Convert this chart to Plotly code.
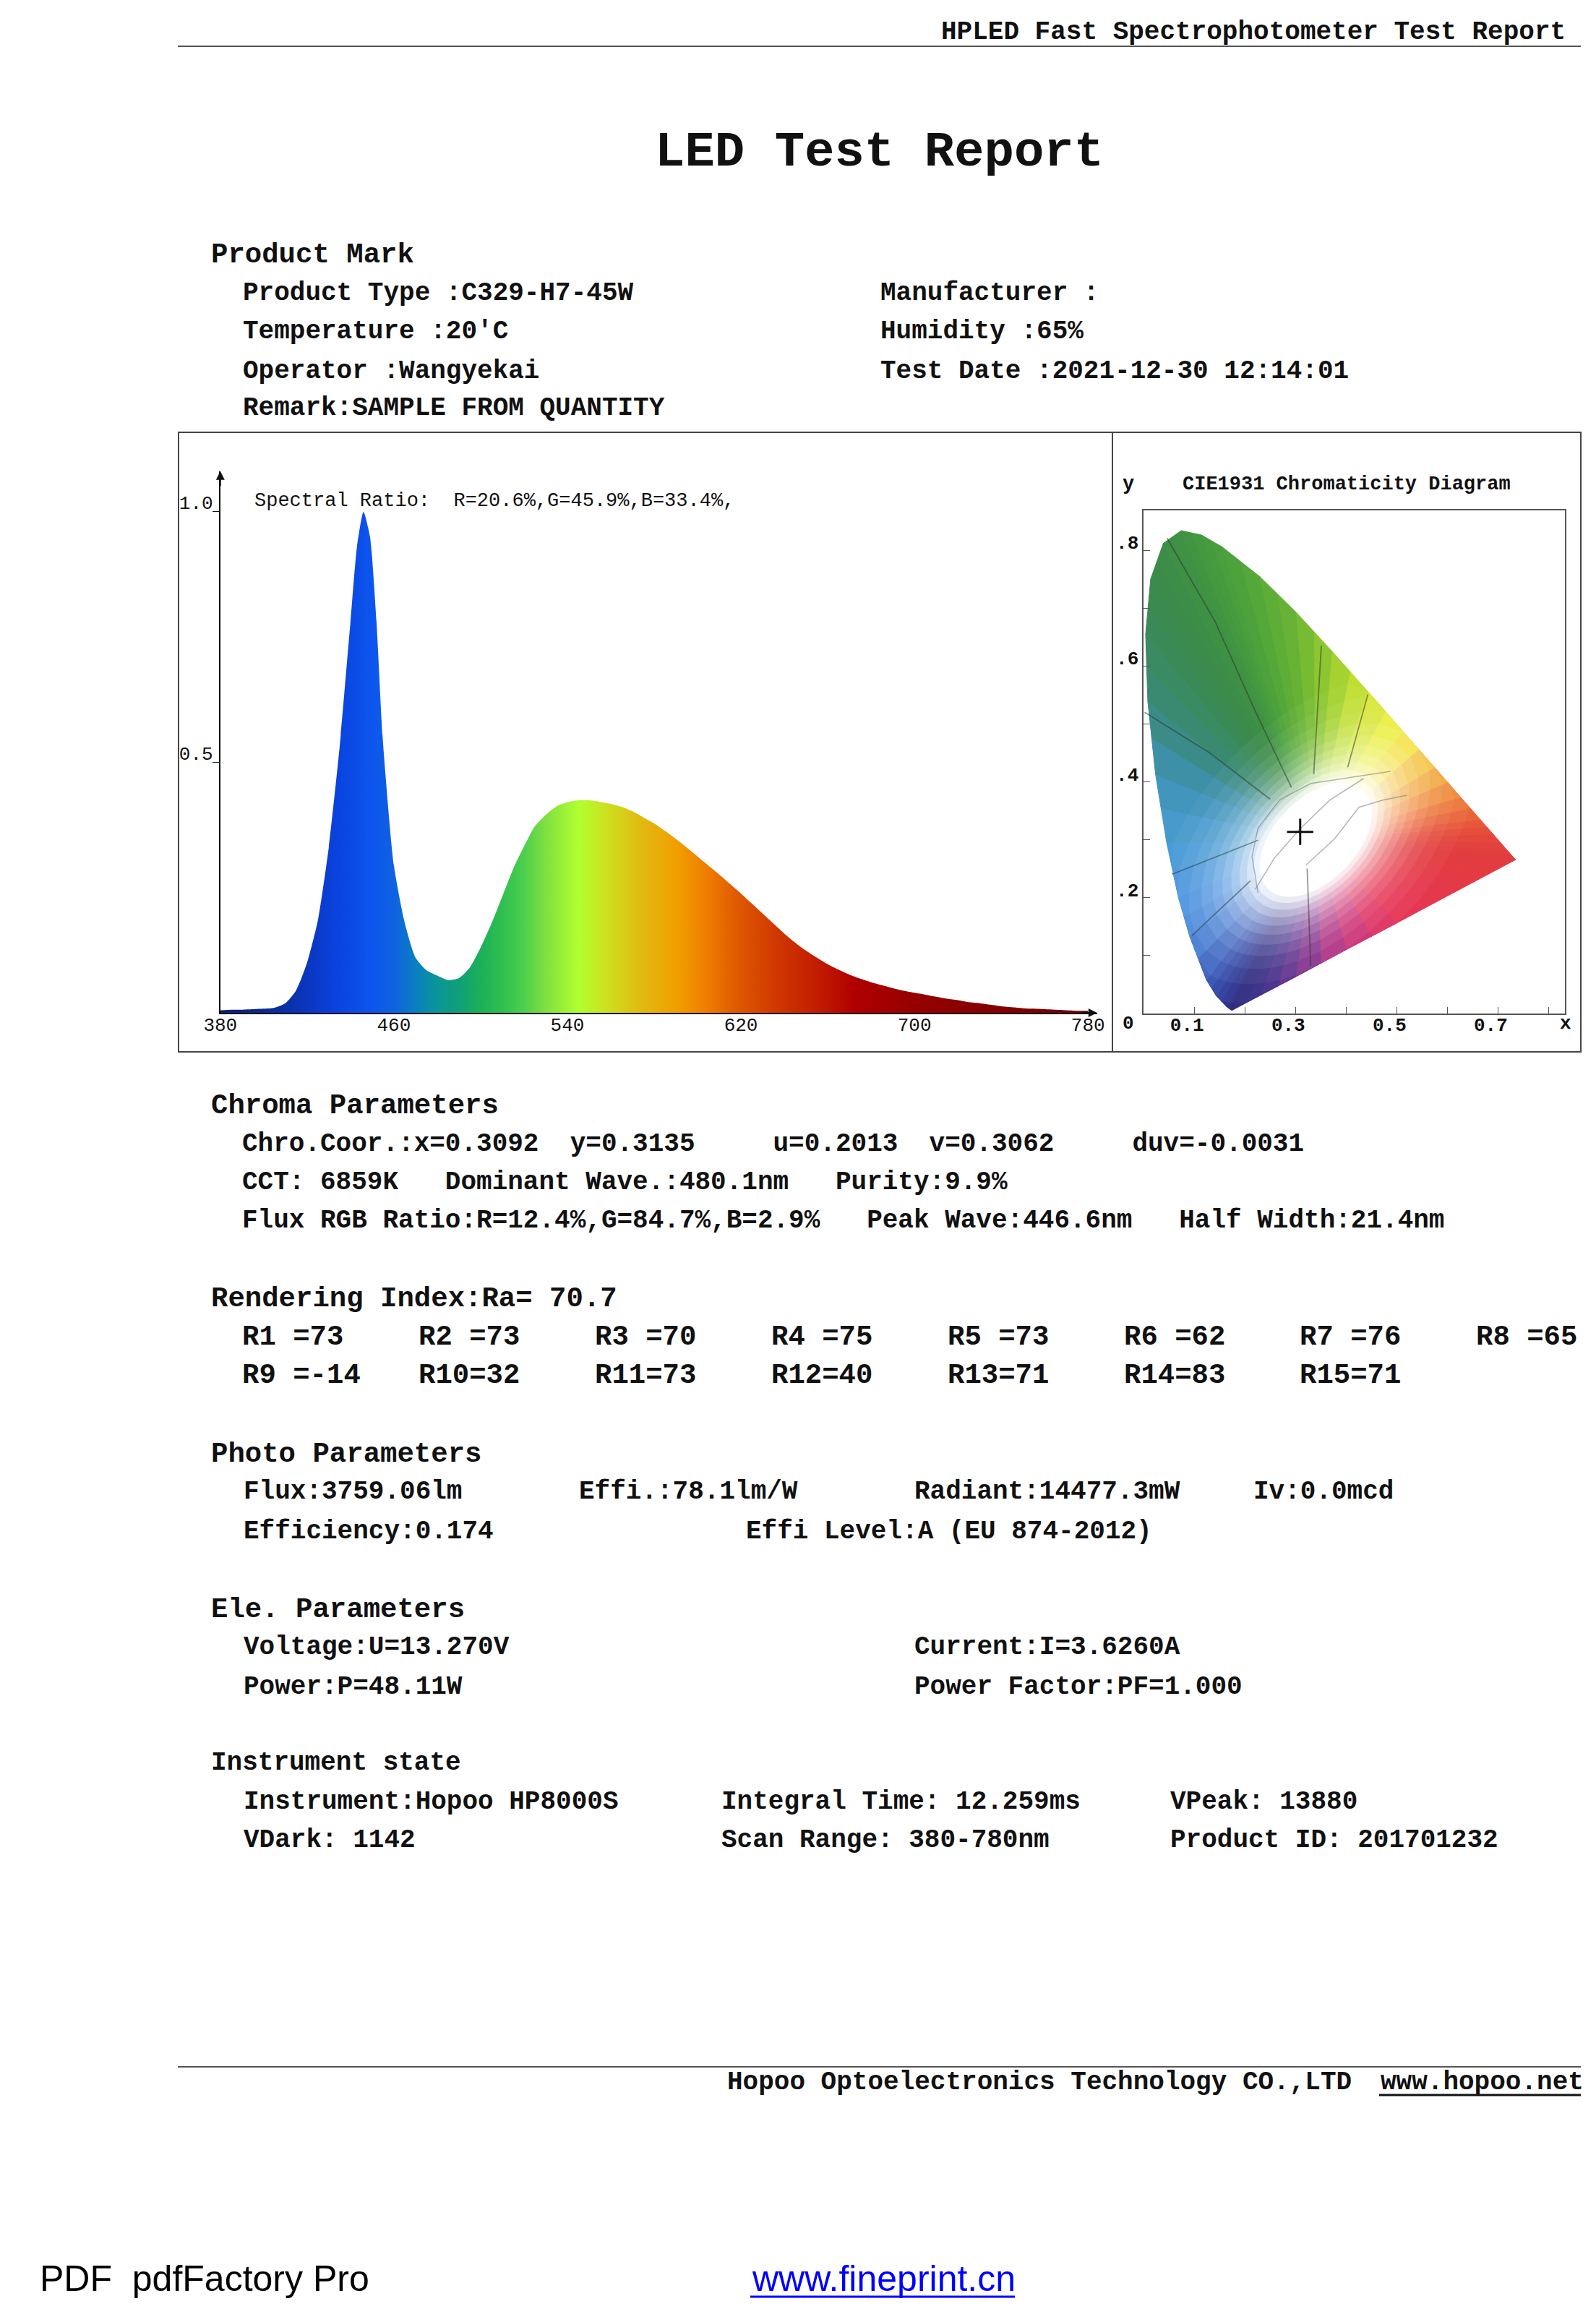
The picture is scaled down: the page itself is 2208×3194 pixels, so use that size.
import math
import plotly.graph_objects as go

W, H = 2208, 3194

# ---------------- data ----------------
wavelengths = [380, 385, 390, 395, 400, 405, 410, 415, 420, 425, 430, 435, 440, 443, 446, 449,
               452, 455, 460, 465, 470, 475, 480, 485, 490, 495, 500, 505, 510, 515, 520, 525,
               530, 535, 540, 545, 550, 555, 560, 565, 570, 575, 580, 585, 590, 595, 600, 605,
               610, 615, 620, 625, 630, 635, 640, 645, 650, 655, 660, 665, 670, 675, 680, 685,
               690, 695, 700, 705, 710, 715, 720, 725, 730, 735, 740, 745, 750, 755, 760, 765,
               770, 775, 780]
intensity = [0.005, 0.006, 0.006, 0.007, 0.008, 0.010, 0.019, 0.045, 0.100, 0.185, 0.330, 0.530,
             0.780, 0.930, 1.000, 0.950, 0.780, 0.540, 0.295, 0.180, 0.110, 0.085, 0.074, 0.065,
             0.069, 0.090, 0.130, 0.178, 0.232, 0.287, 0.332, 0.372, 0.395, 0.412, 0.420, 0.424,
             0.424, 0.421, 0.417, 0.411, 0.402, 0.390, 0.378, 0.363, 0.347, 0.330, 0.312, 0.294,
             0.276, 0.257, 0.238, 0.218, 0.198, 0.178, 0.158, 0.140, 0.124, 0.110, 0.097, 0.086,
             0.076, 0.068, 0.061, 0.055, 0.049, 0.044, 0.040, 0.036, 0.032, 0.028, 0.025, 0.021,
             0.019, 0.016, 0.013, 0.011, 0.009, 0.008, 0.007, 0.006, 0.005, 0.004, 0.004]
x_ticks = [380, 460, 540, 620, 700, 780]
y_ticks = [0.5, 1.0]
y_tick_text = ["0.5", "1.0"]

spec_color_nm = [380, 400, 420, 435, 450, 460, 470, 480, 490, 500, 510, 520, 530, 545, 555,
                 565, 575, 590, 603, 618, 636, 657, 672, 700, 740, 780]
spec_color_hex = ["#0c1f78", "#0a2a8c", "#0a36c0", "#0a44e0", "#0d55ee", "#0f62e0", "#0a7fc0",
                  "#0a9598", "#0fa078", "#1cb058", "#30c050", "#4ccf4c", "#80e040", "#b0ff30",
                  "#c8e824", "#d6d018", "#e2b810", "#f0a000", "#f08000", "#e05a00", "#d03800",
                  "#c01a00", "#b00000", "#960000", "#820000", "#700000"]

# CIE 1931 boundary (spectral locus + purple line) and its colours
cie_x = [0.1741, 0.1644, 0.1440, 0.1241, 0.0913, 0.0687, 0.0454, 0.0235, 0.0082, 0.0039, 0.0139,
         0.0389, 0.0743, 0.1142, 0.1547, 0.2296, 0.3016, 0.3731, 0.4441, 0.5125, 0.5752, 0.6270,
         0.6658, 0.6915, 0.7190, 0.7347, 0.6200, 0.5000, 0.4000, 0.3000, 0.2300]
cie_y = [0.0050, 0.0109, 0.0297, 0.0578, 0.1327, 0.2007, 0.2950, 0.4127, 0.5384, 0.6548, 0.7502,
         0.8120, 0.8338, 0.8262, 0.8059, 0.7543, 0.6923, 0.6245, 0.5547, 0.4866, 0.4242, 0.3725,
         0.3340, 0.3083, 0.2809, 0.2653, 0.2120, 0.1560, 0.1100, 0.0630, 0.0310]
cie_colors = ["#2f2b80", "#2e318a", "#2f40a0", "#3658b8", "#4282d8", "#4a94e0", "#4a9dd4",
              "#3f92b4", "#3a8a7a", "#3a8a5c", "#3b8a4c", "#3d8e46", "#409442", "#45993f",
              "#4aa03c", "#58aa38", "#6cb534", "#98cc30", "#cde432", "#f2ee2a", "#f2b038",
              "#ee7e3a", "#e85c3a", "#e4483c", "#e2403e", "#e23c3e", "#e43a48", "#e6345a",
              "#c42e7c", "#6a2e8e", "#3a2d86"]
white_pt = (0.34, 0.30)
region_lines = [
    [(0.046, 0.821), (0.141, 0.677), (0.220, 0.523), (0.292, 0.390)],
    [(0.002, 0.520), (0.130, 0.450), (0.250, 0.370)],
    [(0.351, 0.635), (0.336, 0.413)],
    [(0.443, 0.551), (0.403, 0.425)],
    [(0.0555, 0.240), (0.226, 0.299)],
    [(0.095, 0.134), (0.211, 0.229)],
    [(0.330, 0.082), (0.323, 0.250)],
]
white_lines = [
    [(0.226, 0.208), (0.214, 0.271), (0.226, 0.320), (0.269, 0.369), (0.330, 0.397),
     (0.440, 0.411), (0.488, 0.418)],
    [(0.2206, 0.2144), (0.2586, 0.2685), (0.3086, 0.3184), (0.3680, 0.3684), (0.4348, 0.4058)],
    [(0.3205, 0.2560), (0.3776, 0.3018), (0.4252, 0.3559), (0.4727, 0.3684), (0.5204, 0.3768)],
]
cie_xt = [0.1, 0.3, 0.5, 0.7]
cie_xt_text = ["0.1", "0.3", "0.5", "0.7"]
cie_yt = [0.2, 0.4, 0.6, 0.8]
cie_yt_text = [".2", ".4", ".6", ".8"]
chroma_x, chroma_y = 0.3092, 0.3135

r_labels = [["R1 =73", "R2 =73", "R3 =70", "R4 =75", "R5 =73", "R6 =62", "R7 =76", "R8 =65"],
            ["R9 =-14", "R10=32", "R11=73", "R12=40", "R13=71", "R14=83", "R15=71"]]

# ---------------- helpers ----------------
MONO = "Liberation Mono"
SANS = "Liberation Sans"


def fx(p):
    return p / W


def fy(p):
    return 1 - p / H


def nb(s):
    return s.replace(" ", "\u00a0")


annotations = []


def text(x, y, s, size=36, weight=700, anchor="left", color="#111", family=MONO):
    annotations.append(dict(x=fx(x), y=fy(y), xref="paper", yref="paper", text=nb(s),
                            showarrow=False, xanchor=anchor, yanchor="middle",
                            font=dict(family=family, size=size, color=color, weight=weight)))


shapes = []


def hline(x0, x1, y, color="#555", width=2):
    shapes.append(dict(type="line", xref="paper", yref="paper", x0=fx(x0), x1=fx(x1),
                       y0=fy(y), y1=fy(y), line=dict(color=color, width=width)))


def hex2rgb(h):
    return tuple(int(h[i:i + 2], 16) for i in (1, 3, 5))


def tint(rgb, b):
    return "rgb(%d,%d,%d)" % tuple(round(c + (255 - c) * b) for c in rgb)


fig = go.Figure()

# ---------------- spectrum ----------------
span = spec_color_nm[-1] - spec_color_nm[0]
spec_scale = [[(n - spec_color_nm[0]) / span, c] for n, c in zip(spec_color_nm, spec_color_hex)]
fig.add_trace(go.Scatter(
    x=wavelengths, y=intensity, mode="lines", line=dict(width=0, shape="spline", smoothing=0.6),
    fill="tozeroy",
    fillgradient=dict(type="horizontal", colorscale=spec_scale, start=380, stop=780),
    xaxis="x", yaxis="y", hoverinfo="skip", showlegend=False))

# ---------------- CIE diagram (shaded horseshoe) ----------------
layer_radius = [None, 0.215, 0.19, 0.17, 0.153, 0.138, 0.125, 0.113, 0.102, 0.092, 0.083, 0.075]
layer_blend = [0.0, 0.04, 0.09, 0.15, 0.23, 0.32, 0.42, 0.53, 0.65, 0.78, 0.9, 1.0]
SUB = 2
ang = math.radians(38)
ca, sa = math.cos(ang), math.sin(ang)
wx, wy = white_pt
n = len(cie_x)
bx, by, bc = [], [], []
for i in range(n):
    j = (i + 1) % n
    c1, c2 = hex2rgb(cie_colors[i]), hex2rgb(cie_colors[j])
    for s in range(SUB):
        t = s / SUB
        bx.append(cie_x[i] + t * (cie_x[j] - cie_x[i]))
        by.append(cie_y[i] + t * (cie_y[j] - cie_y[i]))
        bc.append((c1, c2, t))
m = len(bx)


def pull(k, r):
    dx, dy = bx[k] - wx, by[k] - wy
    u = dx * ca + dy * sa
    v = -dx * sa + dy * ca
    d = math.hypot(u / 1.7, v)
    f = 1.0 if r is None else min(1.0, r / d)
    return wx + f * dx, wy + f * dy


for r, b in zip(layer_radius, layer_blend):
    for i in range(m):
        j = (i + 1) % m
        p1, p2 = pull(i, r), pull(j, r)
        c1, c2, t = bc[i]
        tm = t + 0.5 / SUB
        col = tint(tuple(a + tm * (c - a) for a, c in zip(c1, c2)), b)
        fig.add_trace(go.Scatter(x=[wx, p1[0], p2[0], wx], y=[wy, p1[1], p2[1], wy],
                                 mode="lines", fill="toself", fillcolor=col,
                                 line=dict(color=col, width=1), xaxis="x2", yaxis="y2",
                                 hoverinfo="skip", showlegend=False))

for seg in region_lines:
    fig.add_trace(go.Scatter(x=[p[0] for p in seg], y=[p[1] for p in seg], mode="lines",
                             line=dict(color="rgba(40,50,45,0.5)", width=1.8),
                             xaxis="x2", yaxis="y2", hoverinfo="skip", showlegend=False))
for seg in white_lines:
    fig.add_trace(go.Scatter(x=[p[0] for p in seg], y=[p[1] for p in seg], mode="lines",
                             line=dict(color="rgba(120,120,120,0.55)", width=1.5),
                             xaxis="x2", yaxis="y2", hoverinfo="skip", showlegend=False))
fig.add_trace(go.Scatter(x=[chroma_x], y=[chroma_y], mode="markers",
                         marker=dict(symbol="cross-thin", size=26,
                                     line=dict(width=3, color="#111")),
                         xaxis="x2", yaxis="y2", hoverinfo="skip", showlegend=False))

# ---------------- page frame / lines ----------------
hline(246, 2187, 64)
hline(246, 2187, 2859)
shapes.append(dict(type="rect", xref="paper", yref="paper", x0=fx(247), x1=fx(2187),
                   y0=fy(1455), y1=fy(598), line=dict(color="#444", width=2)))
shapes.append(dict(type="line", xref="paper", yref="paper", x0=fx(1539), x1=fx(1539),
                   y0=fy(1455), y1=fy(598), line=dict(color="#444", width=2)))
hline(1908, 2187, 2898, color="#111", width=3)
hline(1038, 1404, 3177, color="#0000ff", width=3)

# axis arrows
annotations.append(dict(x=784.2, y=0, xref="x", yref="y", ax=-22, ay=0, text="",
                        showarrow=True, arrowhead=2, arrowsize=1.2, arrowwidth=2,
                        arrowcolor="#111"))
annotations.append(dict(x=380, y=1.0811, xref="x", yref="y", ax=0, ay=22, text="",
                        showarrow=True, arrowhead=2, arrowsize=1.2, arrowwidth=2,
                        arrowcolor="#111"))

# ---------------- texts ----------------
text(2168, 44, "HPLED Fast Spectrophotometer Test Report", 36, 700, anchor="right")
text(1216, 211, "LED Test Report", 69, 700, anchor="center")

text(290, 353, "Product Mark", 39)
text(334, 406, "Product Type :C329-H7-45W")
text(1216, 406, "Manufacturer :")
text(334, 459, "Temperature :20'C")
text(1216, 459, "Humidity :65%")
text(334, 513, "Operator :Wangyekai")
text(1216, 513, "Test Date :2021-12-30 12:14:01")
text(334, 565, "Remark:SAMPLE FROM QUANTITY")

text(350, 693, "Spectral Ratio:  R=20.6%,G=45.9%,B=33.4%,", 27, 400)
text(1561, 670, "y", 27, 700, anchor="center")
text(1863, 670, "CIE1931 Chromaticity Diagram", 27, 700, anchor="center")
text(1561, 1416, "0", 26, 700, anchor="center")
text(2166, 1416, "x", 26, 700, anchor="center")

text(290, 1530, "Chroma Parameters", 39)
text(333, 1582, "Chro.Coor.:x=0.3092  y=0.3135     u=0.2013  v=0.3062     duv=-0.0031")
text(333, 1635, "CCT: 6859K   Dominant Wave.:480.1nm   Purity:9.9%")
text(333, 1688, "Flux RGB Ratio:R=12.4%,G=84.7%,B=2.9%   Peak Wave:446.6nm   Half Width:21.4nm")

text(290, 1797, "Rendering Index:Ra= 70.7", 39)
for row, yy in zip(r_labels, (1850, 1903)):
    for k, lab in enumerate(row):
        text(333 + k * 243.9, yy, lab, 39)

text(290, 2012, "Photo Parameters", 39)
text(335, 2063, "Flux:3759.06lm")
text(799, 2063, "Effi.:78.1lm/W")
text(1263, 2063, "Radiant:14477.3mW")
text(1732, 2063, "Iv:0.0mcd")
text(335, 2118, "Efficiency:0.174")
text(1030, 2118, "Effi Level:A (EU 874-2012)")

text(290, 2227, "Ele. Parameters", 39)
text(335, 2278, "Voltage:U=13.270V")
text(1263, 2278, "Current:I=3.6260A")
text(335, 2333, "Power:P=48.11W")
text(1263, 2333, "Power Factor:PF=1.000")

text(290, 2438, "Instrument state", 36, 700)
text(335, 2492, "Instrument:Hopoo HP8000S")
text(996, 2492, "Integral Time: 12.259ms")
text(1617, 2492, "VPeak: 13880")
text(335, 2545, "VDark: 1142")
text(996, 2545, "Scan Range: 380-780nm")
text(1617, 2545, "Product ID: 201701232")

text(1004, 2880, "Hopoo Optoelectronics Technology CO.,LTD")
text(1908, 2880, "www.hopoo.net")

text(53, 3152, "PDF  pdfFactory Pro", 50, 400, color="#000", family=SANS)
text(1038, 3152, "www.fineprint.cn", 50, 400, color="#0000ff", family=SANS)

# ---------------- layout ----------------
axis_font = dict(family=MONO, size=26, color="#111")
fig.update_layout(
    width=W, height=H, margin=dict(l=0, r=0, t=0, b=0, pad=0, autoexpand=False),
    paper_bgcolor="white", plot_bgcolor="rgba(0,0,0,0)", showlegend=False,
    xaxis=dict(domain=[fx(304.8), fx(1517.8)], range=[380, 784.2], anchor="y",
               showline=True, linecolor="#111", linewidth=2, showgrid=False, zeroline=False,
               tickvals=x_ticks, ticks="", tickfont=axis_font, ticklabelstandoff=-8,
               fixedrange=True, automargin=False),
    yaxis=dict(domain=[fy(1400.9), fy(651.7)], range=[0, 1.0811], anchor="x",
               showline=True, linecolor="#111", linewidth=2, showgrid=False, zeroline=False,
               tickvals=y_ticks, ticktext=y_tick_text, ticks="outside", ticklen=9,
               tickcolor="#111", tickfont=axis_font, ticklabelshift=-13,
               ticklabelstandoff=-6, fixedrange=True, automargin=False),
    xaxis2=dict(domain=[fx(1582.2), fx(2165)], range=[0, 0.8322], anchor="y2",
                showline=True, mirror=True, linecolor="#555", linewidth=1.5, showgrid=False,
                zeroline=False, tickvals=cie_xt, ticktext=cie_xt_text, ticks="inside",
                ticklen=9, tickcolor="#555", ticklabelshift=-10, ticklabelstandoff=-9,
                minor=dict(dtick=0.1, tick0=0, ticks="inside", ticklen=9, tickcolor="#555"),
                tickfont=dict(family=MONO, size=26, color="#111", weight=700),
                fixedrange=True, automargin=False),
    yaxis2=dict(domain=[fy(1401.7), fy(706)], range=[0, 0.8688], anchor="x2",
                showline=True, mirror=True, linecolor="#555", linewidth=1.5, showgrid=False,
                zeroline=False, tickvals=cie_yt, ticktext=cie_yt_text, ticks="inside",
                ticklen=9, tickcolor="#555", ticklabelshift=-11,
                minor=dict(dtick=0.1, tick0=0, ticks="inside", ticklen=9, tickcolor="#555"),
                tickfont=dict(family=MONO, size=26, color="#111", weight=700),
                fixedrange=True, automargin=False),
    annotations=annotations, shapes=shapes,
)

fig.write_html(
    "out.html",
    config={"displayModeBar": False},
    post_script="document.body.style.margin='0';document.body.style.overflow='hidden';",
)
